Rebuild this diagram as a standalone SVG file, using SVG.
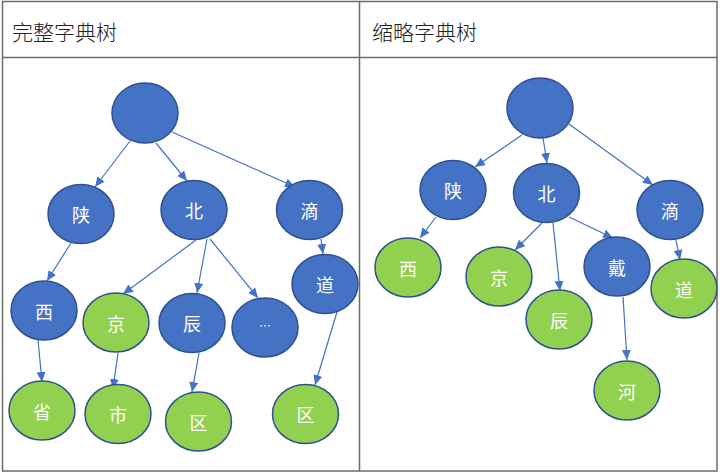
<svg xmlns="http://www.w3.org/2000/svg" width="720" height="474" viewBox="0 0 720 474">
<style>
.frame{fill:none;stroke:#6b6b6b;stroke-width:1.5}
.title{font-family:"Noto Sans CJK SC","Noto Sans CJK JP",sans-serif;font-size:21px;fill:#222;font-weight:300}
.b{fill:#4472C4;stroke:#2F528F;stroke-width:1.5}
.g{fill:#92D050;stroke:#2F528F;stroke-width:1.5}
.lbl{font-family:"Noto Sans CJK SC","Noto Sans CJK JP",sans-serif;font-size:18px;fill:#fff;text-anchor:middle;dominant-baseline:central}
.e{stroke:#4472C4;stroke-width:1.2;fill:none;marker-end:url(#arr)}
</style>
<defs>
<marker id="arr" markerWidth="10" markerHeight="9" refX="10" refY="4.5" orient="auto" markerUnits="userSpaceOnUse">
<path d="M0,0 L10,4.5 L0,9 z" fill="#4472C4"/>
</marker>
</defs>
<rect x="0" y="0" width="720" height="474" fill="#fff"/>
<g id="frame">
<rect class="frame" x="2.5" y="1.5" width="714.5" height="469.5"/>
<line class="frame" x1="2.5" y1="57.5" x2="717" y2="57.5"/>
<line class="frame" x1="359.5" y1="1.5" x2="359.5" y2="471"/>
<text class="title" x="12" y="39.5">完整字典树</text>
<text class="title" x="372" y="39.5">缩略字典树</text>
</g>
<g id="connectors">
<line class="e" x1="130" y1="141" x2="95" y2="187"/>
<line class="e" x1="156" y1="143" x2="187" y2="181"/>
<line class="e" x1="172" y1="132" x2="295" y2="187"/>
<line class="e" x1="321" y1="239" x2="323" y2="254"/>
<line class="e" x1="71" y1="243" x2="47" y2="281"/>
<line class="e" x1="196" y1="240" x2="123" y2="294"/>
<line class="e" x1="207" y1="239" x2="197" y2="293"/>
<line class="e" x1="210" y1="239" x2="258" y2="298"/>
<line class="e" x1="38" y1="340" x2="42" y2="382"/>
<line class="e" x1="118" y1="353" x2="113" y2="389"/>
<line class="e" x1="199" y1="353" x2="192" y2="392"/>
<line class="e" x1="337" y1="312" x2="315" y2="385"/>
<line class="e" x1="522" y1="135" x2="475" y2="167"/>
<line class="e" x1="543" y1="138" x2="547" y2="163"/>
<line class="e" x1="569" y1="124" x2="653" y2="185"/>
<line class="e" x1="436" y1="217" x2="420" y2="238"/>
<line class="e" x1="542" y1="223" x2="515" y2="250"/>
<line class="e" x1="553" y1="223" x2="560" y2="291"/>
<line class="e" x1="569" y1="217" x2="613" y2="238"/>
<line class="e" x1="676" y1="240" x2="680" y2="260"/>
<line class="e" x1="623" y1="297" x2="627" y2="360"/>
</g>
<g id="L-root"><ellipse class="b" cx="145" cy="113" rx="33" ry="30"/></g>
<g id="L-shan"><ellipse class="b" cx="81" cy="214" rx="33" ry="29.5"/><text class="lbl" x="81" y="214">陕</text></g>
<g id="L-bei"><ellipse class="b" cx="194" cy="210" rx="33" ry="29.5"/><text class="lbl" x="194" y="210">北</text></g>
<g id="L-di"><ellipse class="b" cx="309.5" cy="210" rx="33" ry="29.5"/><text class="lbl" x="309.5" y="210">滴</text></g>
<g id="L-dao"><ellipse class="b" cx="325" cy="284" rx="33" ry="29.5"/><text class="lbl" x="325" y="284">道</text></g>
<g id="L-xi"><ellipse class="b" cx="44" cy="310.5" rx="33" ry="29.5"/><text class="lbl" x="44" y="310.5">西</text></g>
<g id="L-jing"><ellipse class="g" cx="116" cy="322.5" rx="33" ry="29.5"/><text class="lbl" x="116" y="322.5">京</text></g>
<g id="L-chen"><ellipse class="b" cx="192" cy="323" rx="33" ry="29.5"/><text class="lbl" x="192" y="323">辰</text></g>
<g id="L-etc"><ellipse class="b" cx="265" cy="327.5" rx="33" ry="29.5"/><text class="lbl" x="265" y="325" style="font-size:12px">…</text></g>
<g id="L-sheng"><ellipse class="g" cx="42" cy="410.5" rx="33" ry="29.5"/><text class="lbl" x="42" y="410.5">省</text></g>
<g id="L-shi"><ellipse class="g" cx="118" cy="414" rx="33" ry="29.5"/><text class="lbl" x="118" y="414">市</text></g>
<g id="L-qu1"><ellipse class="g" cx="198.5" cy="421.5" rx="33" ry="29.5"/><text class="lbl" x="198.5" y="421.5">区</text></g>
<g id="L-qu2"><ellipse class="g" cx="305.5" cy="414" rx="33" ry="29.5"/><text class="lbl" x="305.5" y="414">区</text></g>
<g id="R-root"><ellipse class="b" cx="540" cy="108" rx="33" ry="30"/></g>
<g id="R-shan"><ellipse class="b" cx="453" cy="190" rx="33" ry="29.5"/><text class="lbl" x="453" y="190">陕</text></g>
<g id="R-bei"><ellipse class="b" cx="546.5" cy="193" rx="33" ry="29.5"/><text class="lbl" x="546.5" y="193">北</text></g>
<g id="R-di"><ellipse class="b" cx="670" cy="210" rx="33" ry="29.5"/><text class="lbl" x="670" y="210">滴</text></g>
<g id="R-xi"><ellipse class="g" cx="408" cy="267.5" rx="33" ry="29.5"/><text class="lbl" x="408" y="267.5">西</text></g>
<g id="R-jing"><ellipse class="g" cx="499" cy="276.5" rx="33" ry="29.5"/><text class="lbl" x="499" y="276.5">京</text></g>
<g id="R-dai"><ellipse class="b" cx="617" cy="266.5" rx="33" ry="29.5"/><text class="lbl" x="617" y="266.5">戴</text></g>
<g id="R-dao"><ellipse class="g" cx="684" cy="288.5" rx="33" ry="29.5"/><text class="lbl" x="684" y="288.5">道</text></g>
<g id="R-chen"><ellipse class="g" cx="559" cy="319.5" rx="33" ry="29.5"/><text class="lbl" x="559" y="319.5">辰</text></g>
<g id="R-he"><ellipse class="g" cx="627" cy="390.5" rx="33" ry="29.5"/><text class="lbl" x="627" y="390.5">河</text></g>
</svg>
